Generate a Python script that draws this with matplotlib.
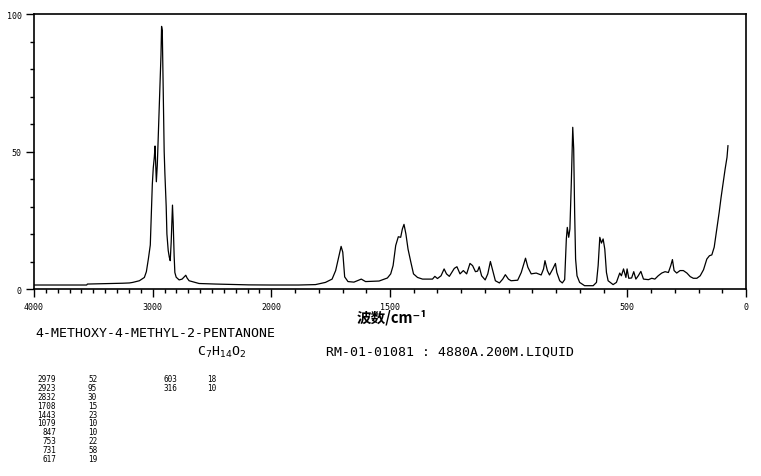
import numpy as np
import matplotlib.pyplot as plt
from matplotlib.ticker import FixedLocator, MultipleLocator

# Raman spectrum, points (wavenumber cm-1, relative intensity)
wavenumber = [4000, 3556, 3550, 3252, 3196, 3168, 3112, 3070, 3053, 3036, 3020, 3011,
              3003, 2995, 2986, 2980, 2975, 2969, 2961, 2950, 2942, 2930, 2925, 2919,
              2910, 2903, 2897, 2886, 2880, 2869, 2860, 2852, 2844, 2833, 2827, 2819,
              2813, 2802, 2777, 2752, 2721, 2710, 2693, 2609, 2469, 2190, 2005,
              1885, 1814, 1772, 1744, 1729, 1715, 1706, 1699, 1691, 1677, 1652, 1621,
              1603, 1546, 1511, 1497, 1487, 1476, 1465, 1455, 1448, 1441, 1433, 1424,
              1412, 1401, 1384, 1363, 1321, 1311, 1300, 1285, 1272, 1262, 1250, 1229,
              1218, 1205, 1191, 1177, 1163, 1152, 1140, 1131, 1124, 1114, 1099, 1088,
              1077, 1067, 1056, 1039, 1025, 1014, 1001, 990, 962, 947, 929, 919, 905,
              884, 863, 853, 847, 837, 828, 814, 803, 797, 785, 774, 764, 757, 753,
              747, 742, 736, 730, 726, 722, 718, 712, 701, 680, 644, 630, 623, 616,
              609, 602, 595, 588, 581, 560, 546, 532, 525, 516, 506, 501, 494, 482,
              473, 464, 454, 443, 432, 411, 397, 384, 370, 355, 341, 327, 317, 310,
              303, 292, 278, 264, 249, 235, 222, 207, 193, 179, 165, 154, 144, 134,
              123, 113, 105, 95, 88, 80, 76]
intensity = [1.45, 1.45, 1.8, 2.1, 2.2, 2.4, 3.0, 4.2, 6.3, 11.0, 16.0, 28.0,
             38.0, 44.0, 48.0, 52.0, 46.0, 39.0, 45.0, 59.0, 68.0, 85.0, 95.5, 94.0,
             70.0, 50.0, 42.0, 30.0, 20.0, 14.0, 11.6, 10.3, 17.0, 30.5, 24.0, 12.0,
             6.0, 4.3, 3.3, 3.6, 5.0, 4.0, 3.0, 2.0, 1.8, 1.5, 1.45,
             1.45, 1.6, 2.4, 3.6, 6.7, 12.0, 15.5, 13.4, 4.4, 2.7, 2.5, 3.6,
             2.7, 2.9, 4.0, 5.5, 8.5, 15.8, 19.0, 18.8, 21.8, 23.5, 20.0, 14.5,
             9.7, 5.5, 4.2, 3.6, 3.6, 4.6, 3.8, 4.8, 7.3, 5.5, 4.6, 7.5,
             8.1, 5.5, 6.7, 5.5, 9.3, 8.5, 6.3, 6.5, 8.1, 4.8, 3.3, 5.5,
             10.0, 6.7, 3.0, 2.2, 3.6, 5.2, 3.6, 3.0, 3.2, 6.0, 11.2, 7.9, 5.5,
             5.8, 5.1, 7.3, 10.3, 6.7, 5.1, 7.3, 9.3, 6.0, 3.0, 2.2, 3.4, 18.2, 22.4,
             18.8, 21.8, 38.8, 58.8, 50.9, 27.9, 10.9, 4.8, 2.4, 1.2, 1.2, 2.4, 8.5, 18.8,
             16.7, 18.2, 14.5, 6.0, 3.0, 1.6, 2.4, 5.8, 4.8, 7.3, 4.2, 7.3, 3.9, 4.0,
             6.3, 3.6, 4.8, 6.4, 3.6, 3.4, 3.9, 3.6, 4.8, 5.8, 6.3, 6.0, 8.5, 10.7,
             6.7, 5.8, 6.7, 6.7, 5.8, 4.5, 3.9, 3.9, 4.8, 7.0, 10.9, 12.1, 12.4, 15.2,
             21.8, 27.9, 33.3, 39.4, 43.6, 47.9, 52.1]

# peak table
peak_wn_1 = ['2979', '2923', '2832', '1708', '1443', '1079', '847', '753', '731', '617']
peak_int_1 = ['52', '95', '30', '15', '23', '10', '10', '22', '58', '19']
peak_wn_2 = ['603', '316']
peak_int_2 = ['18', '10']

x_ticks = [4000, 3000, 2000, 1500, 500, 0]
y_ticks = [0, 50, 100]


def fwd(w):
    w = np.asarray(w, dtype=float)
    return np.where(w <= 2000, w, 2000 + (w - 2000) / 2)


def inv(u):
    u = np.asarray(u, dtype=float)
    return np.where(u <= 2000, u, 2000 + (u - 2000) * 2)


W, H = 761, 477
fig = plt.figure(figsize=(W / 100, H / 100), dpi=100)
ax = fig.add_axes([34 / W, 1 - 290 / H, 712 / W, 275 / H])

ax.plot(wavenumber, intensity, color='black', lw=0.9)

ax.set_xscale('function', functions=(fwd, inv))
ax.set_xlim(4000, 0)
ax.set_ylim(0, 100)

ax.set_xticks(x_ticks)
ax.set_xticklabels([str(t) for t in x_ticks])
ax.xaxis.set_minor_locator(FixedLocator(np.arange(0, 4001, 100)))
ax.set_yticks(y_ticks)
ax.set_yticklabels([str(t) for t in y_ticks])
ax.yaxis.set_minor_locator(MultipleLocator(10))

ax.tick_params(which='major', length=6, width=1, direction='out', pad=3,
               labelsize=6, colors='black')
ax.tick_params(which='minor', length=3, width=1, direction='out')
for lab in ax.get_xticklabels() + ax.get_yticklabels():
    lab.set_family('DejaVu Sans Mono')
for s in ax.spines.values():
    s.set_linewidth(1.2)

fig.text(392 / W, 1 - 318 / H, '波数/cm⁻¹', ha='center', va='center', fontsize=10.5,
         fontweight='bold', family=['Noto Sans CJK SC', 'DejaVu Sans'])

mono = 'DejaVu Sans Mono'
fig.text(35 / W, 1 - 334 / H, '4-METHOXY-4-METHYL-2-PENTANONE', ha='left', va='center',
         fontsize=9.5, family=mono)
fig.text(197 / W, 1 - 352 / H, r'C$_7$H$_{14}$O$_2$', ha='left', va='center',
         fontsize=9.5, family=mono)
fig.text(326 / W, 1 - 352 / H, 'RM-01-01081 : 4880A.200M.LIQUID', ha='left', va='center',
         fontsize=9.5, family=mono)

row0, step = 379.5, 8.9
for i, (w, v) in enumerate(zip(peak_wn_1, peak_int_1)):
    y = 1 - (row0 + i * step) / H
    fig.text(56 / W, y, w, ha='right', va='center', fontsize=5.5, family=mono)
    fig.text(88 / W, y, v, ha='left', va='center', fontsize=5.5, family=mono)
for i, (w, v) in enumerate(zip(peak_wn_2, peak_int_2)):
    y = 1 - (row0 + i * step) / H
    fig.text(177 / W, y, w, ha='right', va='center', fontsize=5.5, family=mono)
    fig.text(207 / W, y, v, ha='left', va='center', fontsize=5.5, family=mono)

fig.savefig('out.png', dpi=100)
